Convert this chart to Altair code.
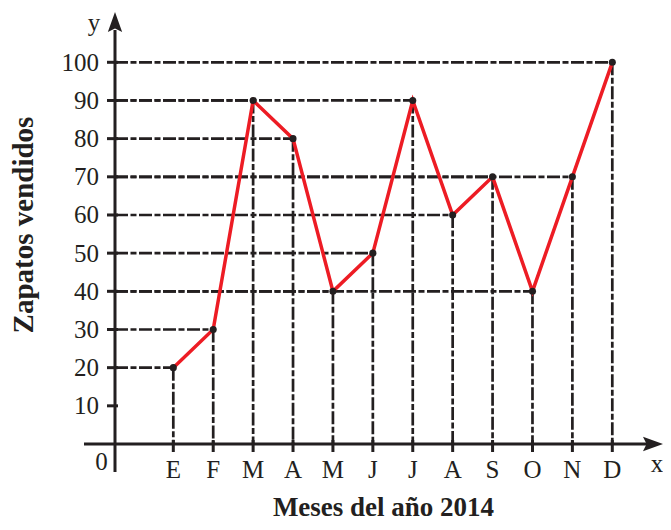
import altair as alt
import pandas as pd

# ---- data ----
months = ["E", "F", "M", "A", "M", "J", "J", "A", "S", "O", "N", "D"]
sold = [20, 30, 90, 80, 40, 50, 90, 60, 70, 40, 70, 100]
y_ticks = [10, 20, 30, 40, 50, 60, 70, 80, 90, 100]
y_tick_labels = ["10", "20", "30", "40", "50", "60", "70", "80", "90", "100"]
x_title = "Meses del año 2014"
y_title = "Zapatos vendidos"

# ---- layout helpers (page pixels -> data units) ----
W, H = 655, 514
OX, OY = 8, 8
X1, X12 = 173.3, 612.3
STEP = (X12 - X1) / 11
Y0PX, PXU = 444.0, 3.817


def px_x(p):
    return 1 + (p - X1) / STEP


def px_y(p):
    return (Y0PX - p) / PXU


xs = alt.Scale(domain=[px_x(OX), px_x(OX + W)], nice=False, zero=False)
ys = alt.Scale(domain=[px_y(OY + H), px_y(OY)], nice=False, zero=False)

INK = "#231f20"
RED = "#ed1c24"
FONT = "Liberation Serif"
DASH = [13, 2.5, 6, 2.5]
YAX = px_x(115)


def X(f, **kw):
    return alt.X(f, type="quantitative", scale=xs, axis=None, **kw)


def Y(f, **kw):
    return alt.Y(f, type="quantitative", scale=ys, axis=None, **kw)


pts = pd.DataFrame({
    "idx": list(range(1, len(months) + 1)),
    "month": months,
    "sold": sold,
})
pts["x0"] = YAX
pts["y0"] = 0.0
pts["tick_top"] = px_y(440)
pts["tick_bot"] = px_y(452)
pts["lab_y"] = px_y(478)

base = alt.Chart(pts)

hlines = base.mark_rule(color=INK, strokeWidth=2.7, strokeDash=DASH).encode(
    x=X("x0"), x2="idx", y=Y("sold"))
vlines = base.mark_rule(color=INK, strokeWidth=2.7, strokeDash=DASH).encode(
    x=X("idx"), y=Y("sold"), y2="y0")

xticks = base.mark_rule(color=INK, strokeWidth=3).encode(
    x=X("idx"), y=Y("tick_bot"), y2="tick_top")
xlabels = base.mark_text(font=FONT, fontSize=25, color=INK, align="center",
                         baseline="alphabetic").encode(
    x=X("idx"), y=Y("lab_y"), text="month:N")

line = base.mark_line(color=RED, strokeWidth=3.5).encode(
    x=X("idx"), y=Y("sold"), order="idx:Q")
dots = base.mark_circle(color=INK, size=50, opacity=1).encode(
    x=X("idx"), y=Y("sold"))

yt = pd.DataFrame({"v": y_ticks, "lab": y_tick_labels})
yt["xa"] = px_x(107)
yt["xb"] = px_x(118)
yt["xl"] = px_x(99)
ytick_rules = alt.Chart(yt).mark_rule(color=INK, strokeWidth=3).encode(
    x=X("xa"), x2="xb", y=Y("v"))
ytick_labels = alt.Chart(yt).mark_text(font=FONT, fontSize=25, color=INK,
                                       align="right", baseline="alphabetic",
                                       dy=8.5).encode(
    x=X("xl"), y=Y("v"), text="lab:N")

axes = pd.DataFrame({
    "xa": [YAX, px_x(84)],
    "xb": [YAX, px_x(652)],
    "ya": [px_y(472), 0.0],
    "yb": [px_y(30), 0.0],
})
axis_rules = alt.Chart(axes).mark_rule(color=INK, strokeWidth=3).encode(
    x=X("xa"), x2="xb", y=Y("ya"), y2="yb")

S = 28.6
arrow_up = "M0,-1L0.5,0.4L0,0.15L-0.5,0.4Z"
arrow_right = "M1,0L-0.4,0.5L-0.15,0L-0.4,-0.5Z"
ar_up = alt.Chart(pd.DataFrame({"x": [YAX], "y": [px_y(12 + S / 2)]})).mark_point(
    shape=arrow_up, filled=True, size=S * S, color=INK, opacity=1, strokeWidth=0
).encode(x=X("x"), y=Y("y"))
ar_right = alt.Chart(pd.DataFrame({"x": [px_x(663 - S / 2)], "y": [0.0]})).mark_point(
    shape=arrow_right, filled=True, size=S * S, color=INK, opacity=1, strokeWidth=0
).encode(x=X("x"), y=Y("y"))

misc = pd.DataFrame({
    "t": ["0", "y", "x"],
    "x": [px_x(101.5), px_x(94), px_x(657)],
    "y": [px_y(470), px_y(31), px_y(472)],
})
misc_text = alt.Chart(misc).mark_text(font=FONT, fontSize=25, color=INK,
                                      align="center", baseline="alphabetic").encode(
    x=X("x"), y=Y("y"), text="t:N")

titles_x = alt.Chart(pd.DataFrame({"t": [x_title], "x": [px_x(383.5)], "y": [px_y(516)]})).mark_text(
    font=FONT, fontSize=27, fontWeight="bold", color=INK, align="center",
    baseline="alphabetic").encode(x=X("x"), y=Y("y"), text="t:N")
titles_y = alt.Chart(pd.DataFrame({"t": [y_title], "x": [px_x(33)], "y": [px_y(225)]})).mark_text(
    font=FONT, fontSize=29, fontWeight="bold", color=INK, align="center",
    baseline="alphabetic", angle=270).encode(x=X("x"), y=Y("y"), text="t:N")

chart = alt.layer(
    hlines, vlines, axis_rules, ytick_rules, xticks, line, dots,
    ar_up, ar_right, ytick_labels, xlabels, misc_text, titles_x, titles_y
).properties(
    width=W, height=H, padding=0,
    autosize=alt.AutoSizeParams(type="none"),
    background="white",
).configure_view(stroke=None)

chart.save("out.html", embed_options={"renderer": "svg", "actions": False})
